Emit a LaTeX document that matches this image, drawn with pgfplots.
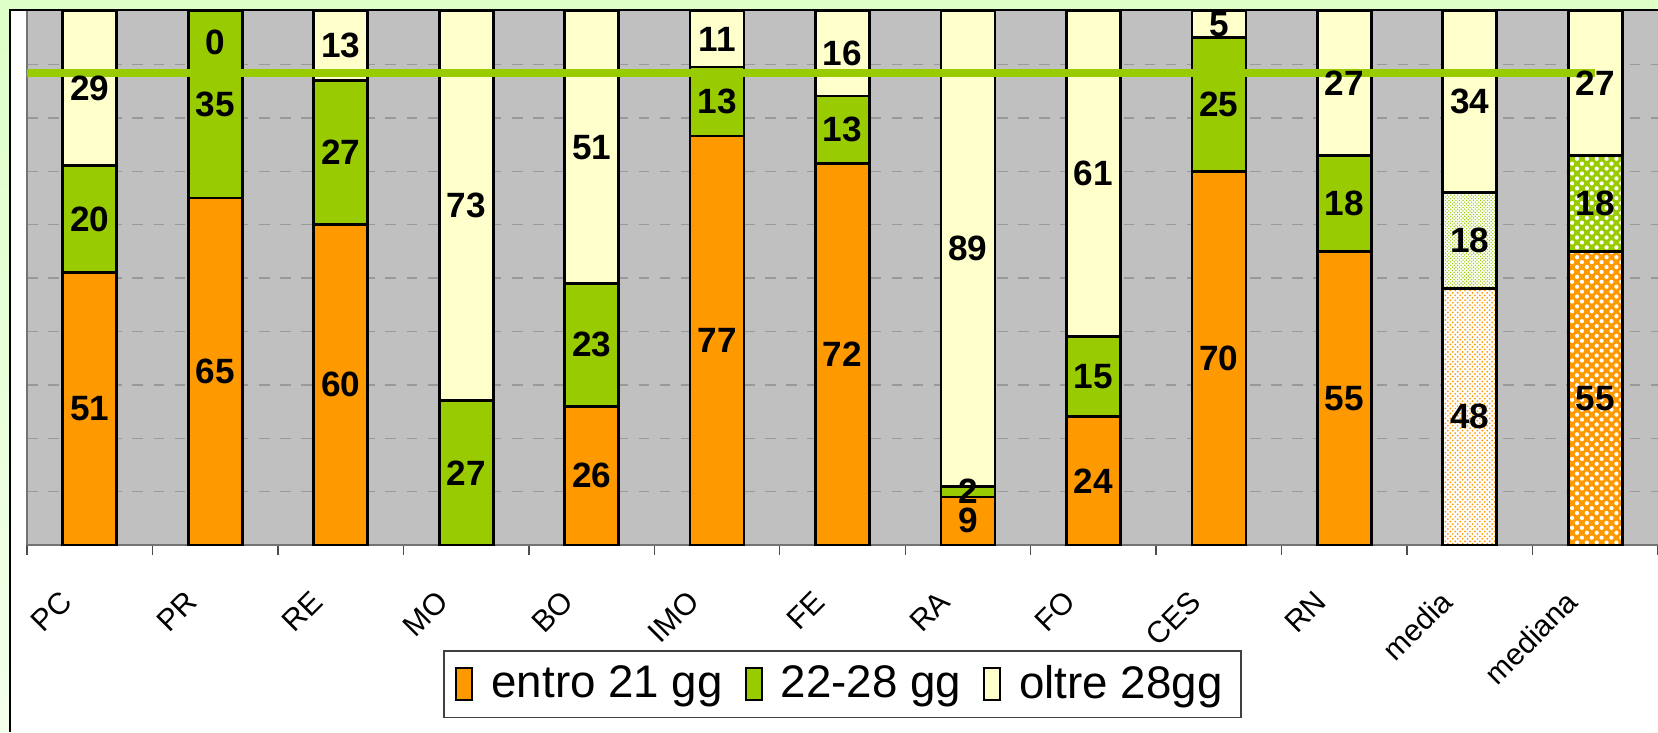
\documentclass[border=0pt]{standalone}
\usepackage{pgfplots}
\pgfplotsset{compat=1.18}
\usepackage{pgfplotstable}
\usepackage{fontspec}
\setmainfont{Liberation Sans}
\usetikzlibrary{patterns}
\definecolor{cOr}{RGB}{255,153,0}
\definecolor{cGr}{RGB}{153,204,0}
\definecolor{cYe}{RGB}{255,255,204}
\definecolor{cBg}{RGB}{192,192,192}
\definecolor{cFrame}{RGB}{222,255,200}

\pgfdeclarepatternformonly{bubbles}{\pgfpoint{-0.1pt}{-0.1pt}}{\pgfpoint{2.9pt}{2.9pt}}{\pgfpoint{2.8pt}{2.8pt}}{%
  \pgfpathcircle{\pgfpoint{0.7pt}{0.7pt}}{0.6pt}%
  \pgfpathcircle{\pgfpoint{2.1pt}{2.1pt}}{0.6pt}%
  \pgfusepath{fill}}
\pgfdeclarepatternformonly{finedots}{\pgfpoint{-0.1pt}{-0.1pt}}{\pgfpoint{1.5pt}{1.5pt}}{\pgfpoint{1.4pt}{1.4pt}}{%
  \pgfpathcircle{\pgfpoint{0.35pt}{0.35pt}}{0.28pt}%
  \pgfpathcircle{\pgfpoint{1.05pt}{1.05pt}}{0.28pt}%
  \pgfusepath{fill}}
\pgfdeclarepatternformonly{densedots}{\pgfpoint{-0.1pt}{-0.1pt}}{\pgfpoint{1.1pt}{1.1pt}}{\pgfpoint{1pt}{1pt}}{%
  \pgfpathcircle{\pgfpoint{0.25pt}{0.25pt}}{0.22pt}%
  \pgfpathcircle{\pgfpoint{0.75pt}{0.75pt}}{0.22pt}%
  \pgfusepath{fill}}

% x: category index; ora/gre/yel: ordinary bars; *med: media bar; *mdn: mediana bar
\pgfplotstableread{
x ora oramed oramdn gre gremed gremdn yel
0  51   0  0  20    0  0  29
1  65   0  0  35    0  0  0
2  60   0  0  27    0  0  13
3  0    0  0  27    0  0  73
4  26   0  0  23    0  0  51
5  76.6 0  0  12.9  0  0  10.5
6  71.5 0  0  12.6  0  0  15.9
7  9    0  0  2     0  0  89
8  24   0  0  15    0  0  61
9  70   0  0  25    0  0  5
10 55   0  0  18    0  0  27
11 0    48 0  0     18 0  34
12 0    0  55 0     0  18 27
}\datatable

\pgfplotstableread{
x y lab
0 25.5 51
0 61 20
0 85.5 29
1 32.5 65
1 82.5 35
1 94.2 0
2 30 60
2 73.5 27
2 93.5 13
3 13.5 27
3 63.5 73
4 13 26
4 37.5 23
4 74.5 51
5 38.3 77
5 83 13
5 94.7 11
6 35.7 72
6 77.8 13
6 92 16
7 4.7 9
7 10 2
7 55.5 89
8 12 24
8 31.5 15
8 69.5 61
9 35 70
9 82.5 25
9 97.5 5
10 27.5 55
10 64 18
10 86.5 27
11 24 48
11 57 18
11 83 34
12 27.5 55
12 64 18
12 86.5 27
}\labtable

\begin{document}
\begin{tikzpicture}[x=1cm,y=1cm]
\useasboundingbox (0,0) rectangle (16.58,7.32);
\shade[top color=cFrame, bottom color=cFrame!35!white] (0,0) rectangle (16.58,7.32);
\fill[cFrame] (0,7.22) rectangle (16.58,7.32);
\fill[white] (0.10,0) rectangle (16.58,7.22);
\draw[black, line width=0.5pt] (0.10,0) -- (0.10,7.22) -- (16.58,7.22);

\begin{axis}[
  at={(0.27cm,1.87cm)}, anchor=south west,
  scale only axis, width=16.31cm, height=5.34cm,
  ybar stacked, bar width=0.54cm,
  xmin=-0.5, xmax=12.5, ymin=0, ymax=100,
  clip=false,
  axis background/.style={fill=cBg},
  axis x line*=bottom, axis y line*=left,
  axis line style={black!55, line width=0.5pt},
  ytick={10,20,...,90}, yticklabels={},
  ymajorgrids, grid style={dashed, black!40, line width=0.4pt},
  ytick style={draw=none},
  xtick={0,...,12},
  xticklabels={PC,PR,RE,MO,BO,IMO,FE,RA,FO,CES,RN,media,mediana},
  major x tick style={draw=none},
  minor xtick={-0.5,0.5,...,12.5},
  minor x tick style={black!70, line width=0.4pt},
  minor tick length=0.1cm, tick align=outside,
  x tick label style={font=\fontsize{8.6}{10}\selectfont, inner sep=0pt, xshift=-0.23cm, yshift=-0.36cm, rotate=45, anchor=east},
  every axis plot/.append style={draw=black, line width=0.8pt},
]
\addplot[fill=cOr] table[x=x, y=ora] {\datatable};
\addplot[fill=white, postaction={pattern=finedots, pattern color=cOr}] table[x=x, y=oramed] {\datatable};
\addplot[fill=cOr, postaction={pattern=bubbles, pattern color=white}] table[x=x, y=oramdn] {\datatable};
\addplot[fill=cGr] table[x=x, y=gre] {\datatable};
\addplot[fill=white, postaction={pattern=densedots, pattern color=cGr}] table[x=x, y=gremed] {\datatable};
\addplot[fill=cGr, postaction={pattern=bubbles, pattern color=white}] table[x=x, y=gremdn] {\datatable};
\addplot[fill=cYe] table[x=x, y=yel] {\datatable};
\end{axis}

\begin{axis}[
  at={(0.27cm,1.87cm)}, anchor=south west,
  scale only axis, width=16.31cm, height=5.34cm,
  xmin=-0.5, xmax=12.5, ymin=0, ymax=100,
  hide axis, clip=false,
  legend style={at={(0.5,-0.197)}, anchor=north, legend columns=3,
    draw=black!75, line width=0.5pt, font=\fontsize{13}{15}\selectfont,
    inner xsep=0.11cm, inner ysep=0.07cm,
    /tikz/every odd column/.append style={column sep=0.11cm},
    /tikz/every even column/.append style={column sep=0.15cm}},
  legend image code/.code={\draw[#1] (0cm,-0.16cm) rectangle (0.16cm,0.16cm);},
]
\addplot[draw=none, mark=none, nodes near coords={\pgfplotspointmeta},
  point meta=explicit symbolic,
  every node near coord/.append style={anchor=center, font=\fontsize{10}{12}\selectfont\bfseries, text=black}]
  table[x=x, y=y, meta=lab] {\labtable};
\addplot[cGr, line width=2.2pt] coordinates {(-0.5,88.4) (12,88.4)};
\addlegendimage{fill=cOr, draw=black, line width=0.6pt}
\addlegendimage{fill=cGr, draw=black, line width=0.6pt}
\addlegendimage{fill=cYe, draw=black, line width=0.6pt}
\legend{,,entro 21 gg,22-28 gg,oltre 28gg}
\end{axis}
\end{tikzpicture}
\end{document}
